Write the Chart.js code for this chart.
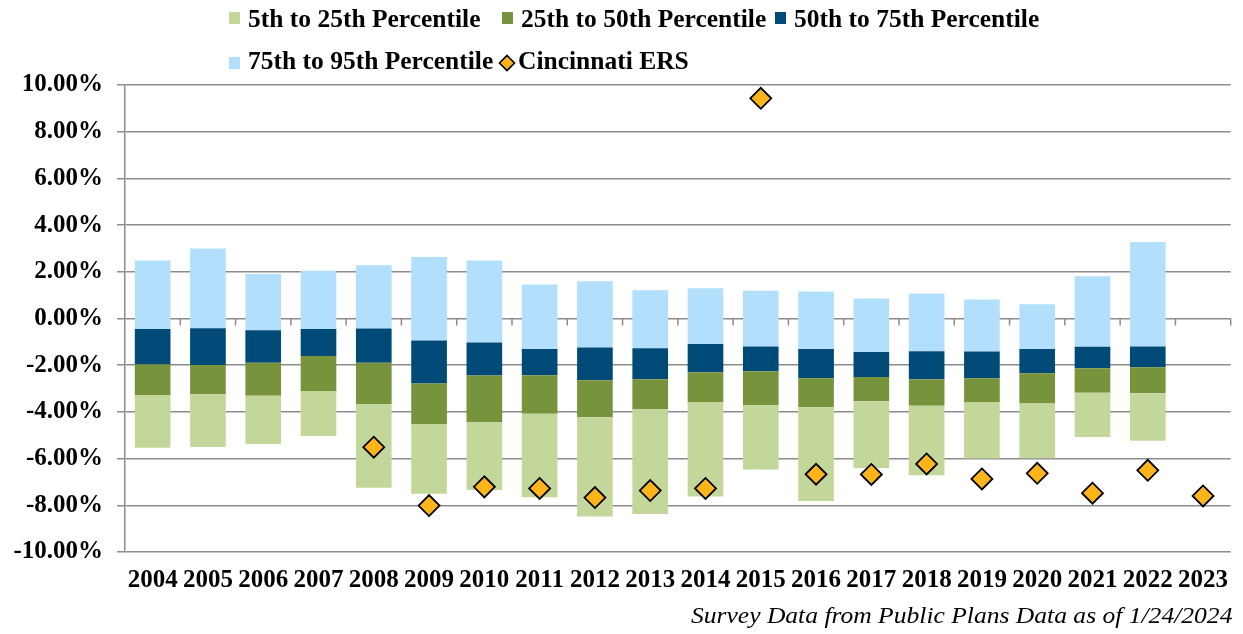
<!DOCTYPE html>
<html>
<head>
<meta charset="utf-8">
<script src="https://cdn.jsdelivr.net/npm/chart.js@4.4.1/dist/chart.umd.min.js"></script>
<style>
  html, body { margin: 0; padding: 0; background: #fff; }
  #wrap { position: relative; width: 1243px; height: 634px; overflow: hidden; }
  #c { position: absolute; left: 0; top: 0; }
  .lg { position: absolute; font-family: 'Liberation Serif', 'Times New Roman', serif; font-weight: bold; font-size: 25px; line-height: 25px; color: #000; white-space: nowrap; }
  .lg .t { display: inline-block; transform: scaleX(1.02); transform-origin: left center; }
  .sw { position: absolute; }
  #foot { position: absolute; right: 11px; top: 603px; font-family: 'Liberation Serif', 'Times New Roman', serif; font-style: italic; font-size: 24px; line-height: 24px; color: #000; white-space: nowrap; transform: scaleX(1.065); transform-origin: right center; }
</style>
</head>
<body>
<div id="wrap">
  <canvas id="c" width="1243" height="634"></canvas>
  <div id="legend"></div>
  <div id="foot">Survey Data from Public Plans Data as of 1/24/2024</div>
</div>
<script>
// ---- Data (percent) ----
const years = ['2004','2005','2006','2007','2008','2009','2010','2011','2012','2013','2014','2015','2016','2017','2018','2019','2020','2021','2022','2023'];
const p5  = [-5.53,-5.50,-5.38,-5.03,-7.25,-7.51,-7.34,-7.65,-8.48,-8.37,-7.62,-6.47,-7.82,-6.40,-6.71,-6.00,-5.98,-5.07,-5.24,null];
const p25 = [-3.28,-3.24,-3.31,-3.11,-3.67,-4.53,-4.44,-4.08,-4.23,-3.88,-3.58,-3.70,-3.80,-3.54,-3.74,-3.58,-3.64,-3.18,-3.20,null];
const p50 = [-1.97,-1.99,-1.89,-1.61,-1.89,-2.78,-2.44,-2.43,-2.64,-2.60,-2.30,-2.26,-2.56,-2.51,-2.60,-2.56,-2.34,-2.13,-2.09,null];
const p75 = [-0.45,-0.42,-0.50,-0.45,-0.43,-0.94,-1.03,-1.31,-1.24,-1.27,-1.09,-1.20,-1.31,-1.43,-1.40,-1.41,-1.31,-1.21,-1.20,null];
const p95 = [2.48,3.00,1.91,2.04,2.28,2.63,2.48,1.46,1.60,1.21,1.30,1.19,1.16,0.86,1.07,0.81,0.61,1.81,3.28,null];
const ers = [null,null,null,null,-5.51,-8.01,-7.21,-7.28,-7.67,-7.37,-7.28,9.43,-6.67,-6.68,-6.23,-6.87,-6.63,-7.48,-6.50,-7.60];
const seriesNames = ['5th to 25th Percentile','25th to 50th Percentile','50th to 75th Percentile','75th to 95th Percentile','Cincinnati ERS'];
const yTicks = [-10,-8,-6,-4,-2,0,2,4,6,8,10];

const colors = ['#C4D79B','#77933C','#004A78','#B2DFFC','#FBB51A'];
const FONT = "'Liberation Serif', 'Times New Roman', serif";

const pair = (lo, hi) => lo.map((v, i) => (v == null || hi[i] == null) ? null : [v, hi[i]]);
const barDs = (label, data, color) => ({
  type: 'bar', label, data, backgroundColor: color, borderWidth: 0,
  grouped: false, barPercentage: 0.645, categoryPercentage: 1, order: 1
});

const tickMarks = {
  id: 'tickMarks',
  afterDraw(chart) {
    const x = chart.scales.x, y = chart.scales.y, ctx = chart.ctx;
    const y0 = y.getPixelForValue(0);
    ctx.save();
    ctx.strokeStyle = '#8c8c8c';
    ctx.lineWidth = 1.5;
    ctx.beginPath();
    for (let i = 0; i < years.length; i++) {
      const px = x.getPixelForValue(i + 0.5);
      ctx.moveTo(px, y0);
      ctx.lineTo(px, y0 + 7);
    }
    ctx.stroke();
    ctx.restore();
  }
};

new Chart(document.getElementById('c'), {
  type: 'bar',
  data: {
    labels: years,
    datasets: [
      {
        type: 'line', label: seriesNames[4], data: ers, showLine: false,
        pointStyle: 'rectRot', pointRadius: 10.5, pointHoverRadius: 10.5,
        pointBackgroundColor: colors[4], pointBorderColor: '#000', pointBorderWidth: 1.8,
        backgroundColor: colors[4], borderColor: '#000', order: 0
      },
      barDs(seriesNames[0], pair(p5, p25), colors[0]),
      barDs(seriesNames[1], pair(p25, p50), colors[1]),
      barDs(seriesNames[2], pair(p50, p75), colors[2]),
      barDs(seriesNames[3], pair(p75, p95), colors[3])
    ]
  },
  options: {
    responsive: false,
    animation: false,
    layout: { padding: { top: 85, bottom: 40, left: 0, right: 10 } },
    plugins: { legend: { display: false }, tooltip: { enabled: false } },
    scales: {
      x: {
        grid: { display: false, drawTicks: false },
        border: { display: false },
        ticks: { font: { family: FONT, size: 25, weight: 'bold' }, color: '#000', padding: 14, maxRotation: 0, autoSkip: false },
        afterFit(s) { s.height = 42; }
      },
      y: {
        min: -10, max: 10,
        afterBuildTicks(s) { s.ticks = yTicks.map(v => ({ value: v })); },
        ticks: { font: { family: FONT, size: 25, weight: 'bold' }, color: '#000', padding: 14,
                 callback: v => v.toFixed(2) + '%' },
        grid: { color: '#8c8c8c', lineWidth: 1.5, tickLength: 8 },
        border: { color: '#8c8c8c', width: 1.5 },
        afterFit(s) { s.width = 125; }
      }
    }
  },
  plugins: [tickMarks]
});

// ---- HTML legend ----
const legendItems = [
  { x: 229, row: 0, i: 0 }, { x: 502, row: 0, i: 1 }, { x: 775, row: 0, i: 2 },
  { x: 229, row: 1, i: 3 }, { x: 497, row: 1, i: 4 }
];
const lg = document.getElementById('legend');
legendItems.forEach(it => {
  const top = it.row === 0 ? 6 : 48;
  const sw = document.createElement('div');
  sw.className = 'sw';
  if (it.i < 4) {
    sw.style.cssText = `left:${it.x}px;top:${it.row === 0 ? 12 : 57}px;width:11px;height:12px;background:${colors[it.i]}`;
  } else {
    sw.style.cssText = `left:${it.x}px;top:53px;width:20px;height:20px`;
    sw.innerHTML = `<svg width="20" height="20" viewBox="0 0 20 20"><polygon points="10,2.5 17.5,10 10,17.5 2.5,10" fill="${colors[4]}" stroke="#000" stroke-width="1.6"/></svg>`;
  }
  lg.appendChild(sw);
  const t = document.createElement('div');
  t.className = 'lg';
  t.style.left = (it.x + (it.i < 4 ? 19 : 21)) + 'px';
  t.style.top = top + 'px';
  t.innerHTML = `<span class="t">${seriesNames[it.i]}</span>`;
  lg.appendChild(t);
});
</script>
</body>
</html>
